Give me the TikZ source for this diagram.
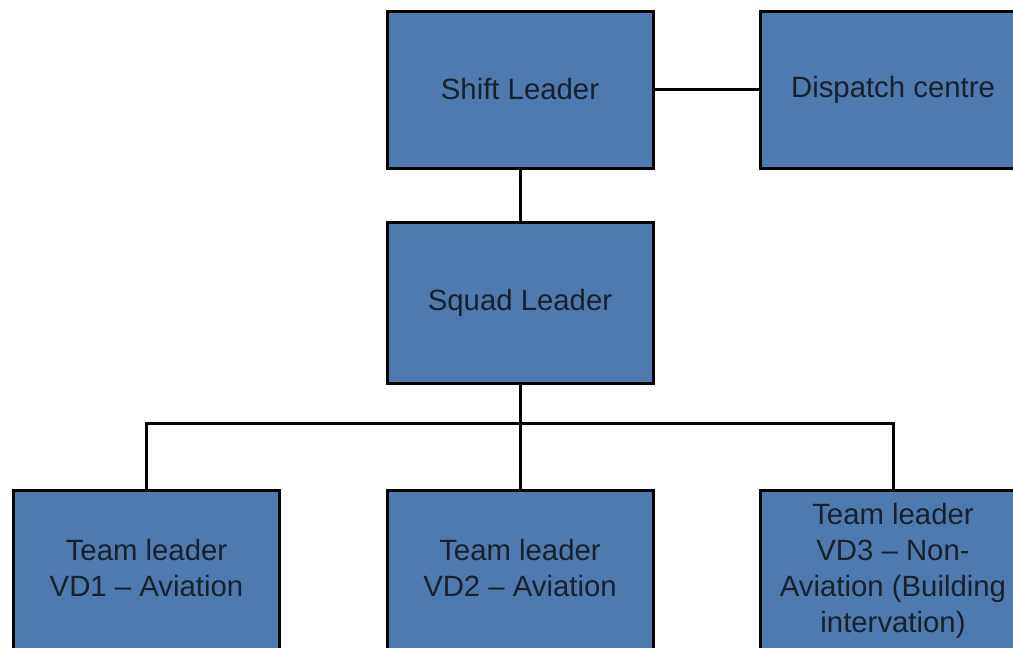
\documentclass[tikz,border=0pt]{standalone}
\usepackage{fontspec}
\setmainfont{Liberation Sans}
\definecolor{boxblue}{HTML}{4F7AAD}
\definecolor{boxtext}{HTML}{17212E}
\newcommand{\liftedtext}[1]{\raisebox{2.6pt}{\begin{tabular}{@{}c@{}}#1\end{tabular}}}
\begin{document}
\begin{tikzpicture}[x=0.75pt,y=-0.75pt,
  orgbox/.style={draw=black, line width=2.25pt, fill=boxblue, text=boxtext,
    minimum width=199.5pt, inner sep=0pt, align=center,
    font=\fontsize{22pt}{27pt}\selectfont},
  link/.style={draw=black, line width=2.25pt}]
\clip (0,0) rectangle (1013,647);
\useasboundingbox (0,0) rectangle (1013,647);
\node[orgbox, minimum height=117.75pt] (shift) at (520,89.5) {Shift Leader};
\node[orgbox, minimum height=117.75pt] (dispatch) at (893,89.5) {Dispatch centre};
\node[orgbox, minimum height=120.75pt] (squad) at (520,302.5) {Squad Leader};
\node[orgbox, minimum height=121.5pt] (t1) at (146.5,571) {\liftedtext{Team leader\\VD1 – Aviation}};
\node[orgbox, minimum height=121.5pt] (t2) at (520,571) {\liftedtext{Team leader\\VD2 – Aviation}};
\node[orgbox, minimum height=121.5pt] (t3) at (893,571) {\liftedtext{Team leader\\VD3 – Non-\\Aviation (Building\\intervation)}};
\coordinate (bus) at (520,423);
\draw[link] (shift.east) -- (dispatch.west);
\draw[link] (shift.south) -- (squad.north);
\draw[link] (squad.south) -- (bus);
\draw[link] (t1.north) |- (bus) -| (t3.north);
\draw[link] (bus) -- (t2.north);
\end{tikzpicture}
\end{document}
